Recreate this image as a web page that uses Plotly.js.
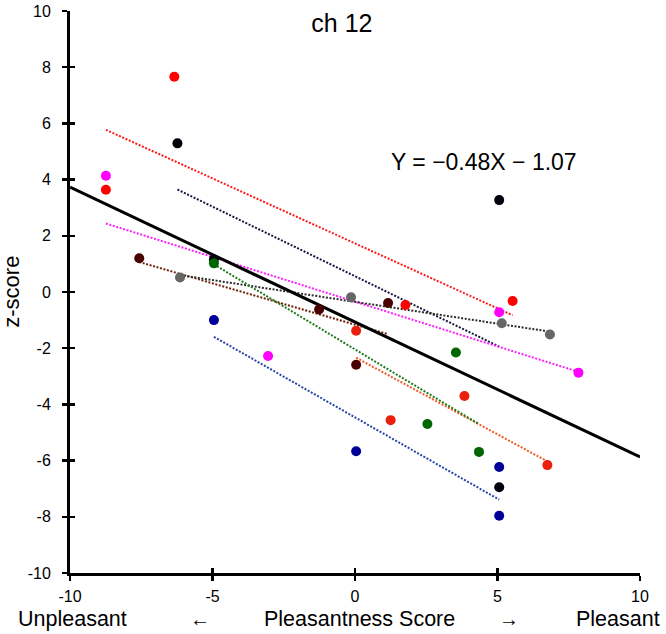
<!DOCTYPE html>
<html>
<head>
<meta charset="utf-8">
<script src="https://cdn.plot.ly/plotly-3.0.1.min.js"></script>
<style>html,body{margin:0;padding:0;background:#fff;}#chart{width:666px;height:634px;}</style>
</head>
<body>
<div id="chart"></div>
<script>
// ---- data ----
const redX = [-8.74, -6.34, 1.77, 5.53];
const redY = [3.64, 7.66, -0.46, -0.32];
const orangeX = [0.04, 1.25, 3.84, 6.75];
const orangeY = [-1.38, -4.56, -3.70, -6.16];
const blackX = [-6.23, -4.95, 5.06, 5.06];
const blackY = [5.29, 1.16, 3.27, -6.95];
const magentaX = [-8.74, -3.05, 5.06, 7.84];
const magentaY = [4.14, -2.28, -0.72, -2.87];
const brownX = [-7.57, -1.26, 0.04, 1.16];
const brownY = [1.20, -0.62, -2.59, -0.39];
const grayX = [-6.14, -0.14, 5.15, 6.84];
const grayY = [0.52, -0.19, -1.11, -1.51];
const greenX = [-4.95, 2.54, 3.54, 4.35];
const greenY = [1.02, -4.70, -2.15, -5.69];
const blueX = [-4.95, 0.04, 5.06, 5.06];
const blueY = [-1.00, -5.67, -6.23, -7.96];

const fitSlope = -0.48;
const fitIntercept = -1.07;
const axisRange = [-10, 10];
const tickVals = [-10, -8, -6, -4, -2, 0, 2, 4, 6, 8, 10];
const xTickVals = [-10, -5, 0, 5, 10];

const series = [
  {x: redX, y: redY, pt: '#ff0000', ln: '#ff1a1a'},
  {x: orangeX, y: orangeY, pt: '#ea1f0c', ln: '#f05a23'},
  {x: blackX, y: blackY, pt: '#000008', ln: '#15183a'},
  {x: magentaX, y: magentaY, pt: '#ff00ff', ln: '#ff20ff'},
  {x: brownX, y: brownY, pt: '#4a0000', ln: '#6e2008'},
  {x: grayX, y: grayY, pt: '#666666', ln: '#2e2e2e'},
  {x: greenX, y: greenY, pt: '#006600', ln: '#1c7a1c'},
  {x: blueX, y: blueY, pt: '#000099', ln: '#2844a8'}
];

function linfit(xs, ys) {
  const n = xs.length;
  const mx = xs.reduce((a, b) => a + b, 0) / n;
  const my = ys.reduce((a, b) => a + b, 0) / n;
  let sxy = 0, sxx = 0;
  for (let i = 0; i < n; i++) { sxy += (xs[i] - mx) * (ys[i] - my); sxx += (xs[i] - mx) * (xs[i] - mx); }
  const b = sxy / sxx;
  return {b: b, a: my - b * mx};
}

const traces = [];
const dotDash = '2px,1.6px';
series.forEach(s => {
  const f = linfit(s.x, s.y);
  const x0 = Math.min(...s.x), x1 = Math.max(...s.x);
  traces.push({
    x: [x0, x1], y: [f.a + f.b * x0, f.a + f.b * x1],
    mode: 'lines', line: {color: s.ln, width: 2, dash: dotDash},
    hoverinfo: 'skip', showlegend: false
  });
});
// overall fit line
traces.push({
  x: axisRange, y: axisRange.map(v => fitIntercept + fitSlope * v),
  mode: 'lines', line: {color: '#000000', width: 3}, showlegend: false
});
series.forEach(s => {
  traces.push({
    x: s.x, y: s.y, mode: 'markers',
    marker: {color: s.pt, size: 10, line: {width: 0}}, showlegend: false
  });
});
// helper trace for the inside-tick overlay axes
traces.push({x: [], y: [], xaxis: 'x2', yaxis: 'y2', showlegend: false});

const FONT = 'Liberation Sans, Arial, sans-serif';
const bottomY = -0.081;

const layout = {
  width: 666, height: 634,
  margin: {l: 70, r: 26, t: 11, b: 61},
  paper_bgcolor: '#ffffff', plot_bgcolor: '#ffffff',
  font: {family: FONT, color: '#000000'},
  showlegend: false,
  title: {text: 'ch 12', font: {family: FONT, size: 25, color: '#000'},
          xref: 'paper', x: 0.477, xanchor: 'center', yref: 'container', y: 0.964, yanchor: 'middle'},
  xaxis: {
    range: axisRange, tickvals: xTickVals, ticktext: xTickVals.map(String),
    showgrid: false, zeroline: false, showline: true, linecolor: '#000', linewidth: 3,
    ticks: 'outside', ticklen: 5, tickwidth: 2.5, tickcolor: '#000',
    tickfont: {family: FONT, size: 16, color: '#000'}, ticklabelstandoff: 2,
    mirror: false
  },
  yaxis: {
    range: axisRange, tickvals: tickVals, ticktext: tickVals.map(String),
    showgrid: false, zeroline: false, showline: true, linecolor: '#000', linewidth: 3,
    ticks: 'outside', ticklen: 5, tickwidth: 2.5, tickcolor: '#000',
    tickfont: {family: FONT, size: 16, color: '#000'}, ticklabelstandoff: 8
  },
  xaxis2: {
    overlaying: 'x', range: axisRange, tickvals: xTickVals, showticklabels: false,
    showgrid: false, zeroline: false, showline: false,
    ticks: 'inside', ticklen: 5, tickwidth: 2.5, tickcolor: '#000', side: 'bottom'
  },
  yaxis2: {
    overlaying: 'y', range: axisRange, tickvals: tickVals, showticklabels: false,
    showgrid: false, zeroline: false, showline: false,
    ticks: 'inside', ticklen: 5, tickwidth: 2.5, tickcolor: '#000', side: 'left'
  },
  annotations: [
    {text: 'Y = \u22120.48X \u2212 1.07', xref: 'x', yref: 'y', x: 4.53, y: 4.64,
     showarrow: false, xanchor: 'center', yanchor: 'middle', font: {family: FONT, size: 23, color: '#000'}},
    {text: 'z-score', xref: 'paper', yref: 'paper', x: -0.104, y: 0.5, textangle: -90,
     showarrow: false, xanchor: 'center', yanchor: 'middle', font: {family: FONT, size: 22, color: '#000'}},
    {text: 'Unpleasant', xref: 'paper', yref: 'paper', x: (72 - 70) / 570, y: bottomY,
     showarrow: false, xanchor: 'center', yanchor: 'middle', font: {family: FONT, size: 21.5, color: '#000'}},
    {text: '\u2190', xref: 'paper', yref: 'paper', x: (200 - 70) / 570, y: bottomY,
     showarrow: false, xanchor: 'center', yanchor: 'middle', font: {family: FONT, size: 20, color: '#000'}},
    {text: 'Pleasantness Score', xref: 'paper', yref: 'paper', x: (359 - 70) / 570, y: bottomY,
     showarrow: false, xanchor: 'center', yanchor: 'middle', font: {family: FONT, size: 21.5, color: '#000'}},
    {text: '\u2192', xref: 'paper', yref: 'paper', x: (509 - 70) / 570, y: bottomY,
     showarrow: false, xanchor: 'center', yanchor: 'middle', font: {family: FONT, size: 20, color: '#000'}},
    {text: 'Pleasant', xref: 'paper', yref: 'paper', x: (618 - 70) / 570, y: bottomY,
     showarrow: false, xanchor: 'center', yanchor: 'middle', font: {family: FONT, size: 21.5, color: '#000'}}
  ]
};

Plotly.newPlot('chart', traces, layout, {staticPlot: true, displayModeBar: false});
</script>
</body>
</html>
